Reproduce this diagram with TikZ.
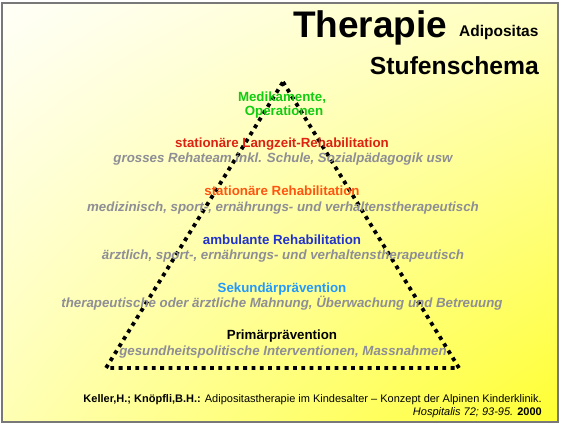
\documentclass[tikz,border=0pt]{standalone}
\usepackage{fontspec}
\usetikzlibrary{shadings}
\setmainfont{Liberation Sans}
\definecolor{cgreen}{RGB}{17,204,17}
\definecolor{cred}{RGB}{221,34,17}
\definecolor{corange}{RGB}{255,85,17}
\definecolor{cblue}{RGB}{34,51,204}
\definecolor{clblue}{RGB}{34,153,255}
\definecolor{cgray}{RGB}{142,142,150}
\definecolor{cframe}{RGB}{120,120,120}
\definecolor{bgul}{RGB}{255,255,248}
\definecolor{bgur}{RGB}{255,255,190}
\definecolor{bgll}{RGB}{255,255,180}
\definecolor{bglr}{RGB}{255,255,50}
\begin{document}
\begin{tikzpicture}[x=1pt,y=-1pt,
  lvl/.style={font=\bfseries\fontsize{13.3}{15}\selectfont, inner sep=0pt, anchor=base},
  sub/.style={font=\bfseries\itshape\fontsize{13.3}{15}\selectfont, text=cgray, inner sep=0pt, anchor=base},
  cite/.style={font=\fontsize{11}{12}\selectfont, inner sep=0pt},
  dotline/.style={line width=3.8pt, dash pattern=on 3.8pt off 4.5pt}]
\useasboundingbox (0,0) rectangle (563,425);
\fill[white] (0,0) rectangle (563,425);
\shade[upper left=bgul, upper right=bgur, lower left=bgll, lower right=bglr] (2,3) rectangle (558,422);
\draw[cframe, line width=1.6pt] (2,3) rectangle (558,422);

% title
\node[font=\bfseries\fontsize{37}{40}\selectfont, inner sep=0pt, anchor=base west] (t1) at (293,38) {Therapie};
\node[font=\bfseries\fontsize{15.5}{17}\selectfont, inner sep=0pt, anchor=base west] (t2) at (459,37) {Adipositas};
\node[font=\bfseries\fontsize{24.7}{27}\selectfont, inner sep=0pt, anchor=base east] (t3) at (539,75) {Stufenschema};

% triangle
\coordinate (apex) at (283,82);
\coordinate (bl) at (106,368);
\coordinate (br) at (459,368);
\draw[dotline] (apex) -- (br) -- (bl) -- cycle;

% levels
\node[lvl, text=cgreen] (m1) at (282,102) {Medikamente,};
\node[lvl, text=cgreen] (m2) at (284,116) {Operationen};
\node[lvl, text=cred] (l1) at (282,148) {stationäre Langzeit-Rehabilitation};
\node[sub] (l2) at (283,163) {grosses Rehateam inkl. Schule, Sozialpädagogik usw};
\node[lvl, text=corange] (s1) at (282,196) {stationäre Rehabilitation};
\node[sub] (s2) at (283,212) {medizinisch, sport-, ernährungs- und verhaltenstherapeutisch};
\node[lvl, text=cblue] (a1) at (282,244) {ambulante Rehabilitation};
\node[sub] (a2) at (283,259) {ärztlich, sport-, ernährungs- und verhaltenstherapeutisch};
\node[lvl, text=clblue] (k1) at (282,292) {Sekundärprävention};
\node[sub] (k2) at (282,307) {therapeutische oder ärztliche Mahnung, Überwachung und Betreuung};
\node[lvl, text=black] (p1) at (282,339) {Primärprävention};
\node[sub] (p2) at (283,355) {gesundheitspolitische Interventionen, Massnahmen};

% citation
\node[cite, anchor=base east] (c1) at (542,402) {\textbf{Keller,H.; Knöpfli,B.H.:} Adipositastherapie im Kindesalter – Konzept der Alpinen Kinderklinik.};
\node[cite, anchor=base east] (c2) at (542,415) {\textit{Hospitalis 72; 93-95.} \textbf{2000}};
\end{tikzpicture}
\end{document}
